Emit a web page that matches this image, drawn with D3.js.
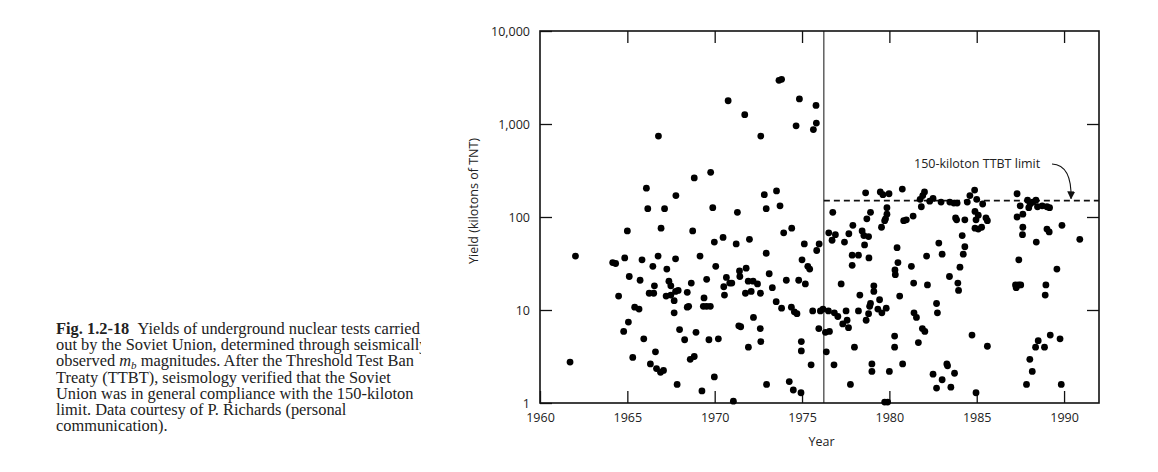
<!DOCTYPE html>
<html>
<head>
<meta charset="utf-8">
<script src="https://cdn.jsdelivr.net/npm/d3@7"></script>
<style>
  body { margin: 0; background: #fff; }
  svg text { fill: #222; }
  .axis-label { font-family: "Open Sans", "Noto Sans", sans-serif; font-size: 12.5px; }
  .caption { font-family: "Liberation Serif", "DejaVu Serif", serif; font-size: 16.4px; }
</style>
</head>
<body>
<svg id="chart" width="1158" height="472"></svg>
<script>
// Soviet underground tests: [year, log10 of yield in kt]
const testsBefore = [
  [1973.68, 3.47], [1973.83, 3.48], [1970.77, 3.25], [1974.85, 3.27], [1975.80, 3.20],
  [1971.72, 3.10], [1974.66, 2.98], [1975.82, 3.01], [1975.65, 2.94], [1966.78, 2.87],
  [1972.64, 2.87], [1969.77, 2.48], [1968.83, 2.42], [1966.09, 2.31], [1967.78, 2.23],
  [1972.84, 2.24], [1973.54, 2.28], [1966.17, 2.09], [1967.13, 2.09], [1969.89, 2.10],
  [1971.30, 2.05], [1972.95, 2.09], [1973.74, 2.12],
  [1965.00, 1.85], [1966.93, 1.88], [1968.74, 1.85], [1969.98, 1.73], [1970.48, 1.78],
  [1971.23, 1.71], [1971.99, 1.76], [1973.95, 1.83], [1974.41, 1.88], [1972.95, 1.61],
  [1975.13, 1.71], [1975.98, 1.71], [1975.84, 1.64], [1962.03, 1.58], [1964.16, 1.51],
  [1964.33, 1.50], [1964.85, 1.56], [1965.84, 1.54], [1966.76, 1.58], [1967.76, 1.55],
  [1969.16, 1.58], [1966.46, 1.47], [1967.26, 1.44], [1970.06, 1.47], [1971.42, 1.42],
  [1971.80, 1.45], [1975.00, 1.54], [1975.33, 1.47], [1975.44, 1.44], [1965.11, 1.36],
  [1965.73, 1.32], [1967.38, 1.31], [1967.49, 1.26], [1966.55, 1.26], [1968.66, 1.29],
  [1969.54, 1.33], [1970.67, 1.35], [1971.44, 1.36], [1973.12, 1.39], [1974.10, 1.32],
  [1974.81, 1.32], [1975.19, 1.28], [1970.52, 1.25], [1970.86, 1.29], [1970.98, 1.29],
  [1971.92, 1.31], [1972.20, 1.31], [1972.45, 1.28], [1973.30, 1.24], [1964.50, 1.15],
  [1966.25, 1.18], [1966.51, 1.18], [1967.22, 1.15], [1967.49, 1.16], [1967.68, 1.10],
  [1967.76, 1.20], [1967.91, 1.21], [1968.43, 1.19], [1969.39, 1.13], [1970.56, 1.16],
  [1971.76, 1.18], [1972.09, 1.20], [1972.62, 1.18], [1973.52, 1.09], [1973.83, 1.02],
  [1974.39, 1.03], [1974.56, 0.98], [1974.71, 0.96], [1975.61, 0.99], [1976.05, 0.99],
  [1976.20, 1.01], [1965.42, 1.03], [1965.67, 1.01], [1968.43, 1.03], [1968.51, 1.04],
  [1969.35, 1.04], [1969.54, 1.04], [1969.75, 1.04], [1967.68, 0.97], [1972.22, 0.92],
  [1965.06, 0.87], [1964.79, 0.77], [1967.99, 0.79], [1968.93, 0.76], [1971.38, 0.83],
  [1971.49, 0.82], [1972.61, 0.80], [1975.96, 0.80], [1965.94, 0.69], [1968.28, 0.68],
  [1969.67, 0.68], [1970.21, 0.69], [1971.93, 0.60], [1972.64, 0.66], [1974.96, 0.66],
  [1974.96, 0.56], [1966.61, 0.55], [1965.31, 0.49], [1968.60, 0.47], [1968.83, 0.50],
  [1961.72, 0.44], [1966.32, 0.42], [1966.67, 0.37], [1966.90, 0.33], [1967.07, 0.35],
  [1975.52, 0.41], [1967.85, 0.20], [1969.98, 0.28], [1972.97, 0.20], [1974.27, 0.23],
  [1974.50, 0.14], [1974.94, 0.11], [1969.27, 0.13], [1971.07, 0.02]
];

const testsAfter = [
  [1978.64, 2.26], [1979.48, 2.27], [1979.63, 2.24], [1979.98, 2.25], [1980.74, 2.30],
  [1982.01, 2.27], [1981.91, 2.23], [1981.76, 2.19], [1982.31, 2.17], [1982.50, 2.20],
  [1982.96, 2.16], [1983.46, 2.16], [1983.69, 2.15], [1983.88, 2.15], [1984.46, 2.16],
  [1984.61, 2.23], [1984.88, 2.29], [1985.00, 2.19], [1985.34, 2.14], [1987.31, 2.25],
  [1987.49, 2.12], [1987.91, 2.18], [1988.06, 2.14], [1988.21, 2.16], [1988.39, 2.18],
  [1988.48, 2.11], [1988.75, 2.12], [1989.02, 2.11], [1989.17, 2.10], [1987.98, 2.10],
  [1981.83, 2.11], [1979.86, 2.10], [1976.76, 2.05], [1978.92, 2.05], [1979.86, 2.03],
  [1979.78, 1.98], [1979.73, 1.96], [1978.71, 1.98], [1981.36, 2.01], [1980.82, 1.96],
  [1980.97, 1.97], [1983.79, 1.99], [1983.85, 1.97], [1984.32, 1.97], [1984.90, 2.06],
  [1985.09, 2.02], [1984.96, 1.97], [1985.53, 1.99], [1985.61, 1.96], [1987.31, 2.00],
  [1987.64, 2.03], [1979.55, 1.89], [1977.91, 1.91], [1984.90, 1.88], [1985.09, 1.87],
  [1985.28, 1.89], [1987.64, 1.89], [1989.02, 1.87], [1989.15, 1.84], [1989.88, 1.91],
  [1976.53, 1.83], [1976.91, 1.81], [1977.68, 1.82], [1978.44, 1.85], [1978.54, 1.80],
  [1978.81, 1.79], [1976.72, 1.75], [1977.43, 1.73], [1978.58, 1.70], [1980.44, 1.67],
  [1982.83, 1.72], [1984.17, 1.80], [1984.32, 1.68], [1987.62, 1.81], [1988.41, 1.73],
  [1990.90, 1.76], [1977.87, 1.59], [1978.23, 1.59], [1978.83, 1.56], [1982.13, 1.58],
  [1983.02, 1.60], [1984.23, 1.60], [1987.41, 1.54], [1977.87, 1.48], [1980.49, 1.51],
  [1981.26, 1.47], [1984.04, 1.46], [1980.32, 1.43], [1989.59, 1.44],
  [1980.34, 1.38], [1981.39, 1.29], [1982.18, 1.27], [1983.44, 1.36], [1983.92, 1.29],
  [1983.96, 1.21], [1977.24, 1.28], [1979.11, 1.26], [1979.11, 1.20], [1978.31, 1.16],
  [1980.59, 1.15], [1987.22, 1.27], [1987.26, 1.24], [1987.41, 1.27], [1987.52, 1.27],
  [1988.96, 1.27], [1988.92, 1.16], [1976.51, 0.99], [1976.34, 0.76], [1976.57, 0.77],
  [1976.39, 0.55], [1976.83, 0.41], [1977.77, 0.20], [1978.00, 0.60], [1976.85, 0.97],
  [1977.05, 0.93], [1977.52, 0.99], [1977.33, 0.85], [1977.58, 0.89], [1977.66, 0.81],
  [1978.23, 0.99], [1978.67, 0.89], [1978.81, 0.96], [1978.87, 1.04], [1978.92, 1.07],
  [1979.44, 1.11], [1979.34, 1.01], [1979.57, 0.97], [1979.82, 1.02], [1981.41, 0.97],
  [1981.55, 0.92], [1981.89, 0.80], [1982.03, 0.77], [1981.66, 0.65], [1982.70, 1.07],
  [1982.75, 0.97], [1980.30, 0.72], [1980.30, 0.60], [1980.76, 0.42], [1979.00, 0.42],
  [1979.00, 0.34], [1980.00, 0.34], [1982.50, 0.31], [1982.70, 0.16], [1983.02, 0.25],
  [1983.29, 0.42], [1983.33, 0.40], [1983.73, 0.32], [1983.52, 0.17], [1984.73, 0.73],
  [1985.61, 0.61], [1984.96, 0.11], [1979.73, 0.01], [1979.90, 0.01], [1987.85, 0.20],
  [1988.18, 0.34], [1988.04, 0.47], [1988.37, 0.60], [1988.52, 0.67], [1988.88, 0.60],
  [1989.21, 0.73], [1989.77, 0.69], [1989.84, 0.20]
];

const yearTicks = [1960, 1965, 1970, 1975, 1980, 1985, 1990];
const yieldTicks = [1, 10, 100, 1000, 10000];
const ttbtYear = 1976.25;
const ttbtLimit = 150;

const captionLines = [
  'Yields of underground nuclear tests carried',
  'out by the Soviet Union, determined through seismically',
  null,
  'Treaty (TTBT), seismology verified that the Soviet',
  'Union was in general compliance with the 150-kiloton',
  'limit. Data courtesy of P. Richards (personal',
  'communication).'
];

const margin = { left: 540, right: 59, top: 31, bottom: 69 };
const W = 1158, H = 472;
const TICK = 12;

const svg = d3.select('#chart');

const x = d3.scaleLinear().domain([1960, 1992]).range([margin.left, W - margin.right]);
const y = d3.scaleLog().domain([1, 10000]).range([H - margin.bottom, margin.top]);

// frame
svg.append('rect')
  .attr('x', x.range()[0]).attr('y', y.range()[1])
  .attr('width', x.range()[1] - x.range()[0])
  .attr('height', y.range()[0] - y.range()[1])
  .attr('fill', 'none').attr('stroke', '#111').attr('stroke-width', 1.6);

// inward ticks on all four sides
const fmt = d3.format(',');
const axisStyle = g => {
  g.select('.domain').remove();
  g.selectAll('.tick line').attr('stroke', '#111').attr('stroke-width', 1.3);
  g.selectAll('text').attr('class', 'axis-label').attr('fill', '#222');
};

svg.append('g')
  .attr('transform', `translate(${margin.left},0)`)
  .call(d3.axisLeft(y).tickValues(yieldTicks).tickFormat(fmt).tickSizeInner(-TICK).tickSizeOuter(0).tickPadding(10))
  .call(axisStyle);

svg.append('g')
  .attr('transform', `translate(${x.range()[1]},0)`)
  .call(d3.axisRight(y).tickValues(yieldTicks.slice(1, -1)).tickFormat('').tickSizeInner(-TICK).tickSizeOuter(0))
  .call(axisStyle);

svg.append('g')
  .attr('transform', `translate(0,${y.range()[0]})`)
  .call(d3.axisBottom(x).tickValues(yearTicks).tickFormat(d3.format('d')).tickSizeInner(-TICK).tickSizeOuter(0).tickPadding(10))
  .call(axisStyle);

svg.append('g')
  .attr('transform', `translate(0,${y.range()[1]})`)
  .call(d3.axisTop(x).tickValues(yearTicks.slice(1)).tickFormat('').tickSizeInner(-TICK).tickSizeOuter(0))
  .call(axisStyle);

// axis titles
svg.append('text').attr('class', 'axis-label')
  .attr('x', (x.range()[0] + x.range()[1]) / 2 + 2).attr('y', 446)
  .attr('text-anchor', 'middle').text('Year');

svg.append('text').attr('class', 'axis-label')
  .attr('transform', `translate(478,${y(100) - 16}) rotate(-90)`)
  .attr('text-anchor', 'middle').text('Yield (kilotons of TNT)');

// treaty line and limit
svg.append('line')
  .attr('x1', x(ttbtYear)).attr('x2', x(ttbtYear))
  .attr('y1', y.range()[1]).attr('y2', y.range()[0])
  .attr('stroke', '#111').attr('stroke-width', 1);

svg.append('line')
  .attr('x1', x(ttbtYear)).attr('x2', x.range()[1])
  .attr('y1', y(ttbtLimit)).attr('y2', y(ttbtLimit))
  .attr('stroke', '#111').attr('stroke-width', 1.6).attr('stroke-dasharray', '6,4');

svg.append('text').attr('class', 'axis-label')
  .attr('x', 914).attr('y', 168).text('150-kiloton TTBT limit');

svg.append('defs').append('marker')
  .attr('id', 'head').attr('viewBox', '0 0 10 10')
  .attr('refX', 9).attr('refY', 5)
  .attr('markerWidth', 8).attr('markerHeight', 10).attr('markerUnits', 'userSpaceOnUse')
  .attr('orient', 'auto')
  .append('path').attr('d', 'M0,0L10,5L0,10Z').attr('fill', '#111');

svg.append('path')
  .attr('d', `M1052,164 Q1072,165 1071,${y(ttbtLimit) - 2}`)
  .attr('fill', 'none').attr('stroke', '#111').attr('stroke-width', 1.1)
  .attr('marker-end', 'url(#head)');

// points
svg.append('g')
  .selectAll('circle')
  .data(testsBefore.concat(testsAfter))
  .join('circle')
  .attr('cx', d => x(d[0]))
  .attr('cy', d => y(Math.pow(10, d[1])))
  .attr('r', 3.4)
  .attr('fill', '#000');

// caption (cropped at the right edge, like the page scan)
svg.append('clipPath').attr('id', 'capclip')
  .append('rect').attr('x', 0).attr('y', 300).attr('width', 421).attr('height', 172);

const cap = svg.append('g').attr('clip-path', 'url(#capclip)');
const lineY = i => 334 + i * 16.2;

captionLines.forEach((line, i) => {
  const t = cap.append('text').attr('class', 'caption').attr('x', 56).attr('y', lineY(i));
  if (i === 0) {
    t.append('tspan').attr('font-weight', 'bold').text('Fig. 1.2-18');
    t.append('tspan').text('\u2002' + line);
  } else if (line === null) {
    t.append('tspan').text('observed ');
    t.append('tspan').attr('font-style', 'italic').text('m');
    t.append('tspan').attr('font-style', 'italic').attr('font-size', '11px').attr('dy', 3).text('b');
    t.append('tspan').attr('dy', -3).text(' magnitudes. After the Threshold Test Ban');
  } else {
    t.text(line);
  }
});
</script>
</body>
</html>
